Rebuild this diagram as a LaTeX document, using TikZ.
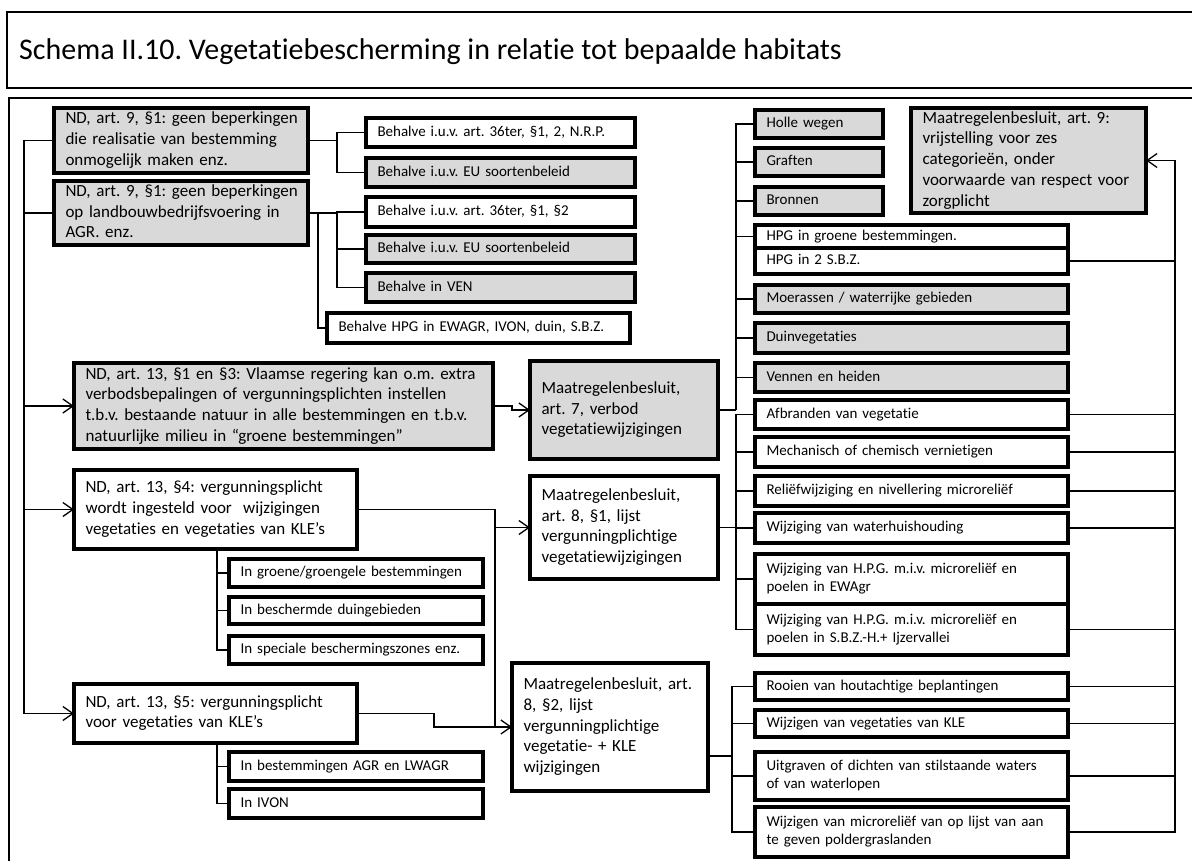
\documentclass[tikz,border=0pt]{standalone}
\usepackage{fontspec}
\setmainfont{Carlito}[RawFeature={-liga;-clig;-calt;-dlig}]
\usetikzlibrary{arrows.meta}
\definecolor{boxgray}{HTML}{D9D9D9}
\frenchspacing

% multi-line box text, lines set by hand
\newcommand\lns[1]{\begin{tabular}{@{}l@{}}#1\end{tabular}}
% box from (x1,y1) to (x2,y2): name, x1, y1, x2, y2, style, text
\newcommand\bx[7]{%
  \pgfmathsetmacro\bw{#4-#2}\pgfmathsetmacro\bh{#5-#3}%
  \pgfmathsetmacro\tw{#4-#2-23}%
  \node[#6, minimum width=\bw pt, minimum height=\bh pt, text width=\tw pt,
        anchor=north west] (#1) at (#2,#3) {\lns{#7}};}

\tikzset{
  boxbase/.style={draw, line width=3.6pt, inner xsep=11.5pt, inner ysep=0pt,
                  outer sep=0pt, align=left},
  gbox/.style={boxbase, fill=boxgray},
  wbox/.style={boxbase, fill=white},
  big/.style={font=\fontsize{17pt}{20.7pt}\selectfont},
  small/.style={font=\fontsize{15pt}{18pt}\selectfont},
  con/.style={line width=1.3pt},
  conb/.style={line width=1.9pt},
  arr/.style={-{Straight Barb[length=10pt,width=14pt]}},
}

\begin{document}
\frenchspacing
\begin{tikzpicture}[x=1pt,y=-1pt]
\useasboundingbox (0,0) rectangle (1192,861);
\clip (0,0) rectangle (1192,861);
\fill[white] (0,0) rectangle (1192,861);

% frames
\draw[line width=2.2pt] (7,12) rectangle (1215,88);
\draw[line width=2.8pt] (9,98) rectangle (1215,890);
\node[anchor=west, inner sep=0pt, font=\fontsize{30pt}{36pt}\selectfont] (title) at (19,52)
  {Schema II.10. Vegetatiebescherming in relatie tot bepaalde habitats};

% left column
\bx{A1}{54}{108}{308}{173}{gbox,big}{ND, art. 9, §1: geen beperkingen\\die realisatie van bestemming\\onmogelijk maken enz.}
\bx{A2}{54}{181}{308}{245}{gbox,big}{ND, art. 9, §1: geen beperkingen\\op landbouwbedrijfsvoering in\\AGR. enz.}
\bx{B}{74}{363}{493}{449}{gbox,big}{ND, art. 13, §1 en §3: Vlaamse regering kan o.m. extra\\verbodsbepalingen of vergunningsplichten instellen\\t.b.v. bestaande natuur in alle bestemmingen en t.b.v.\\natuurlijke milieu in “groene bestemmingen”}
\bx{C}{74}{470}{357}{549}{wbox,big}{ND, art. 13, §4: vergunningsplicht\\wordt ingesteld voor\ \ wijzigingen\\vegetaties en vegetaties van KLE’s}
\bx{D}{74}{684}{357}{743}{wbox,big}{ND, art. 13, §5: vergunningsplicht\\voor vegetaties van KLE’s}

% exceptions
\bx{S1}{366}{118}{635}{147}{wbox,small}{Behalve i.u.v. art. 36ter, §1, 2, N.R.P.}
\bx{S2}{366}{158}{635}{187}{gbox,small}{Behalve i.u.v. EU soortenbeleid}
\bx{S3}{366}{197}{635}{227}{wbox,small}{Behalve i.u.v. art. 36ter, §1, §2}
\bx{S4}{366}{235}{635}{263}{gbox,small}{Behalve i.u.v. EU soortenbeleid}
\bx{S5}{366}{273}{635}{302}{gbox,small}{Behalve in VEN}
\bx{S6}{327}{313}{630}{343}{wbox,small}{Behalve HPG in EWAGR, IVON, duin, S.B.Z.}

\bx{C1}{229}{559}{483}{587}{wbox,small}{In groene/groengele bestemmingen}
\bx{C2}{229}{597}{483}{624}{wbox,small}{In beschermde duingebieden}
\bx{C3}{229}{636}{483}{664}{wbox,small}{In speciale beschermingszones enz.}
\bx{D1}{229}{752}{483}{781}{wbox,small}{In bestemmingen AGR en LWAGR}
\bx{D2}{229}{789}{483}{818}{wbox,small}{In IVON}

% decrees
\bx{M7}{530}{361}{718}{459}{gbox,big}{Maatregelenbesluit,\\art. 7, verbod\\vegetatiewijzigingen}
\bx{M81}{530}{476}{718}{579}{wbox,big}{Maatregelenbesluit,\\art. 8, §1, lijst\\vergunningplichtige\\vegetatiewijzigingen}
\bx{M82}{512}{663}{708}{791}{wbox,big}{Maatregelenbesluit, art.\\8, §2, lijst\\vergunningplichtige\\vegetatie- + KLE\\wijzigingen}
\bx{M9}{911}{108}{1146}{213}{gbox,big}{Maatregelenbesluit, art. 9:\\vrijstelling voor zes\\categorieën, onder\\voorwaarde van respect voor\\zorgplicht}

% right column
\bx{R1}{755}{110}{883}{138}{gbox,small}{Holle wegen}
\bx{R2}{755}{148}{883}{176}{gbox,small}{Graften}
\bx{R3}{755}{187}{883}{215}{gbox,small}{Bronnen}
\bx{R4}{755}{225}{1068}{248}{wbox,small}{HPG in groene bestemmingen.}
\bx{R5}{755}{248}{1068}{274}{wbox,small}{HPG in 2 S.B.Z.}
\bx{R6}{755}{285}{1068}{313}{gbox,small}{Moerassen / waterrijke gebieden}
\bx{R7}{755}{323}{1068}{353}{gbox,small}{Duinvegetaties}
\bx{R8}{755}{363}{1068}{392}{gbox,small}{Vennen en heiden}
\bx{R9}{755}{400}{1068}{429}{wbox,small}{Afbranden van vegetatie}
\bx{R10}{755}{437}{1068}{467}{wbox,small}{Mechanisch of chemisch vernietigen}
\bx{R11}{755}{476}{1068}{506}{wbox,small}{Reliëfwijziging en nivellering microreliëf}
\bx{R12}{755}{513}{1068}{543}{wbox,small}{Wijziging van waterhuishouding}
\bx{R13}{755}{554}{1068}{604}{wbox,small}{Wijziging van H.P.G. m.i.v. microreliëf en\\poelen in EWAgr}
\bx{R14}{755}{604}{1068}{655}{wbox,small}{Wijziging van H.P.G. m.i.v. microreliëf en\\poelen in S.B.Z.-H.+ Ijzervallei}
\bx{R15}{755}{673}{1068}{700}{wbox,small}{Rooien van houtachtige beplantingen}
\bx{R16}{755}{710}{1068}{737}{wbox,small}{Wijzigen van vegetaties van KLE}
\bx{R17}{755}{752}{1068}{800}{wbox,small}{Uitgraven of dichten van stilstaande waters\\of van waterlopen}
\bx{R18}{755}{807}{1068}{857}{wbox,small}{Wijzigen van microreliëf van op lijst van aan\\te geven poldergraslanden}

% bus positions
\coordinate (busL) at (24,0);
\coordinate (busA) at (337,0);
\coordinate (busB) at (318,0);
\coordinate (busK) at (217,0);
\coordinate (jog7) at (512,0);
\coordinate (busC) at (495,0);
\coordinate (jogD) at (434,0);
\coordinate (bus7) at (736,0);
\coordinate (bus82) at (732,0);
\coordinate (busR) at (1175,0);
\coordinate (m82o) at ([yshift=-29pt]M82.east);

% left trunk
\draw[con,arr] (A1.west) -- (busL |- A1.west) |- (D.west);
\draw[con] (A2.west) -- (busL |- A2.west);
\draw[con,arr] (busL |- B.west) -- (B.west);
\draw[con,arr] (busL |- C.west) -- (C.west);

% exceptions to art. 9
\draw[conb] (A1.east) -- (busA |- A1.east);
\draw[con] (S1.west) -| (busA |- S2.west) -- (S2.west);
\draw[conb] (A2.east) -- (busA |- A2.east);
\draw[con] (S3.west) -| (busA |- S5.west) -- (S5.west);
\draw[con] (S4.west) -- (busA |- S4.west);
\draw[con] (busB |- A2.east) |- (S6.west);

% scopes of art. 13
\draw[con] (busK |- C.south) |- (C3.west);
\draw[con] (C1.west) -- (busK |- C1.west);
\draw[con] (C2.west) -- (busK |- C2.west);
\draw[con] (busK |- D.south) |- (D2.west);
\draw[con] (D1.west) -- (busK |- D1.west);

% towards the decrees
\draw[con,arr] (B.east) -- (jog7 |- B.east) -- (jog7 |- M7.west) -- (M7.west);
\draw[con] (C.east) -| (busC |- M82.west);
\draw[con,arr] (busC |- M81.west) -- (M81.west);
\draw[con,arr] (D.east) -- (jogD |- D.east) |- (M82.west);

% art. 7 list
\draw[conb] (M7.east) -- (bus7 |- M7.east);
\draw[con] (R1.west) -| (bus7 |- M7.east);
\foreach \r in {R2,R3,R4,R6,R7,R8}
  \draw[con] (\r.west) -- (bus7 |- \r.west);

% art. 8 par. 1 list
\draw[conb] (M81.east) -- (bus7 |- M81.east);
\draw[con] (R9.west) -| (bus7 |- R14.west) -- (R14.west);
\foreach \r in {R10,R11,R12,R13}
  \draw[con] (\r.west) -- (bus7 |- \r.west);

% art. 8 par. 2 list
\draw[conb] (m82o) -- (bus82 |- m82o);
\draw[con] (R15.west) -| (bus82 |- R18.west) -- (R18.west);
\foreach \r in {R16,R17}
  \draw[con] (\r.west) -- (bus82 |- \r.west);

% exemptions of art. 9
\draw[con,arr] (R18.east) -| (busR |- M9.east) -- (M9.east);
\foreach \r in {R5,R9,R10,R11,R12,R14,R15,R16,R17}
  \draw[con] (\r.east) -- (busR |- \r.east);
\end{tikzpicture}
\end{document}
